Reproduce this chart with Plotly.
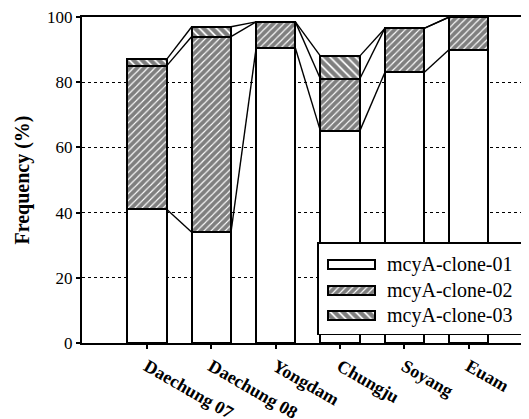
import plotly.graph_objects as go

categories = ["Daechung 07", "Daechung 08", "Yongdam", "Chungju", "Soyang", "Euam"]
clone01 = [41, 34, 90.5, 65, 83, 90]
clone02 = [44, 60, 8, 16, 13.5, 10]
clone03 = [2, 3, 0, 7, 0, 0]
series_names = ["mcyA-clone-01", "mcyA-clone-02", "mcyA-clone-03"]
y_ticks = [0, 20, 40, 60, 80, 100]

FONT = "Liberation Serif"
BAR_W = 0.61
xs = list(range(len(categories)))

# page body has an 8px default margin: figure is shifted by 8px
OFF = 8
W, H = 529 - OFF, 419 - OFF
PL, PR, PT, PB = 82, 529, 16.7, 343.3  # plot area in window pixels

fig = go.Figure()
patterns = [
    dict(shape=""),
    dict(shape="/", size=5, solidity=0.78, fgcolor="black", bgcolor="white"),
    dict(shape="\\", size=6, solidity=0.7, fgcolor="black", bgcolor="white"),
]
for name, vals, pat in zip(series_names, [clone01, clone02, clone03], patterns):
    fig.add_trace(go.Bar(
        x=xs, y=vals, name=name, width=BAR_W, showlegend=False,
        marker=dict(color="white", line=dict(color="black", width=2), pattern=pat),
    ))

# series lines connecting cumulative levels between adjacent bars
levels = []
cum = [0] * len(categories)
for vals in [clone01, clone02, clone03]:
    cum = [c + v for c, v in zip(cum, vals)]
    levels.append(list(cum))
lx, ly = [], []
for lev in levels:
    for i in range(len(categories) - 1):
        lx += [xs[i] + BAR_W / 2, xs[i + 1] - BAR_W / 2, None]
        ly += [lev[i], lev[i + 1], None]
fig.add_trace(go.Scatter(x=lx, y=ly, mode="lines", line=dict(color="black", width=1.4),
                         showlegend=False, hoverinfo="skip"))

# custom legend drawn on a pixel-unit overlay axis
LEG_L, LEG_R, LEG_T, LEG_B = 318, 528, 243, 335
rows = [265, 291, 316]
SYM_L, SYM_W, SYM_H = 328, 47, 9
fig.add_trace(go.Bar(
    x=[LEG_R - LEG_L], y=[(LEG_T + LEG_B) / 2], base=[LEG_L], width=[LEG_B - LEG_T],
    orientation="h", xaxis="x2", yaxis="y2", showlegend=False, hoverinfo="skip",
    marker=dict(color="white", line=dict(color="black", width=1.5)),
))
for name, pat, ry in zip(series_names, patterns, rows):
    fig.add_trace(go.Bar(
        x=[SYM_W], y=[ry], base=[SYM_L], width=[SYM_H], orientation="h",
        xaxis="x2", yaxis="y2", showlegend=False, hoverinfo="skip",
        marker=dict(color="white", line=dict(color="black", width=1.8), pattern=pat),
    ))
    fig.add_annotation(x=385, y=ry, xref="x2", yref="y2", text=name, showarrow=False,
                       xanchor="left", yanchor="middle",
                       font=dict(family=FONT, size=20, color="black"))

fig.update_layout(
    width=W, height=H,
    barmode="stack",
    plot_bgcolor="white", paper_bgcolor="white",
    margin=dict(l=PL - OFF, r=0, t=PT - OFF, b=H - (PB - OFF), pad=0),
    font=dict(family=FONT, color="black"),
    showlegend=False,
    xaxis=dict(
        range=[-1.01, 5.935], tickvals=xs, ticktext=categories,
        tickangle=30, ticks="outside", ticklen=4, tickwidth=1.5, tickcolor="black",
        tickfont=dict(family=FONT, size=18, color="black", weight="bold"),
        showline=True, linecolor="black", linewidth=2, mirror=True,
        showgrid=False, zeroline=False, automargin=False, ticklabeloverflow="allow",
    ),
    yaxis=dict(
        range=[0, 100], tickvals=y_ticks, ticks="outside", ticklen=4, tickwidth=1.5, tickcolor="black",
        tickfont=dict(family=FONT, size=17, color="black"),
        showline=True, linecolor="black", linewidth=2,
        showgrid=True, gridcolor="black", gridwidth=1.3, griddash="dot",
        zeroline=False, automargin=False, ticklabeloverflow="allow",
        title=dict(text="<b>Frequency (%)</b>", font=dict(family=FONT, size=20, color="black"), standoff=12),
    ),
    xaxis2=dict(overlaying="x", range=[PL, PR], visible=False, fixedrange=True),
    yaxis2=dict(overlaying="y", range=[PB, PT], visible=False, fixedrange=True),
)

fig.write_html("out.html")
